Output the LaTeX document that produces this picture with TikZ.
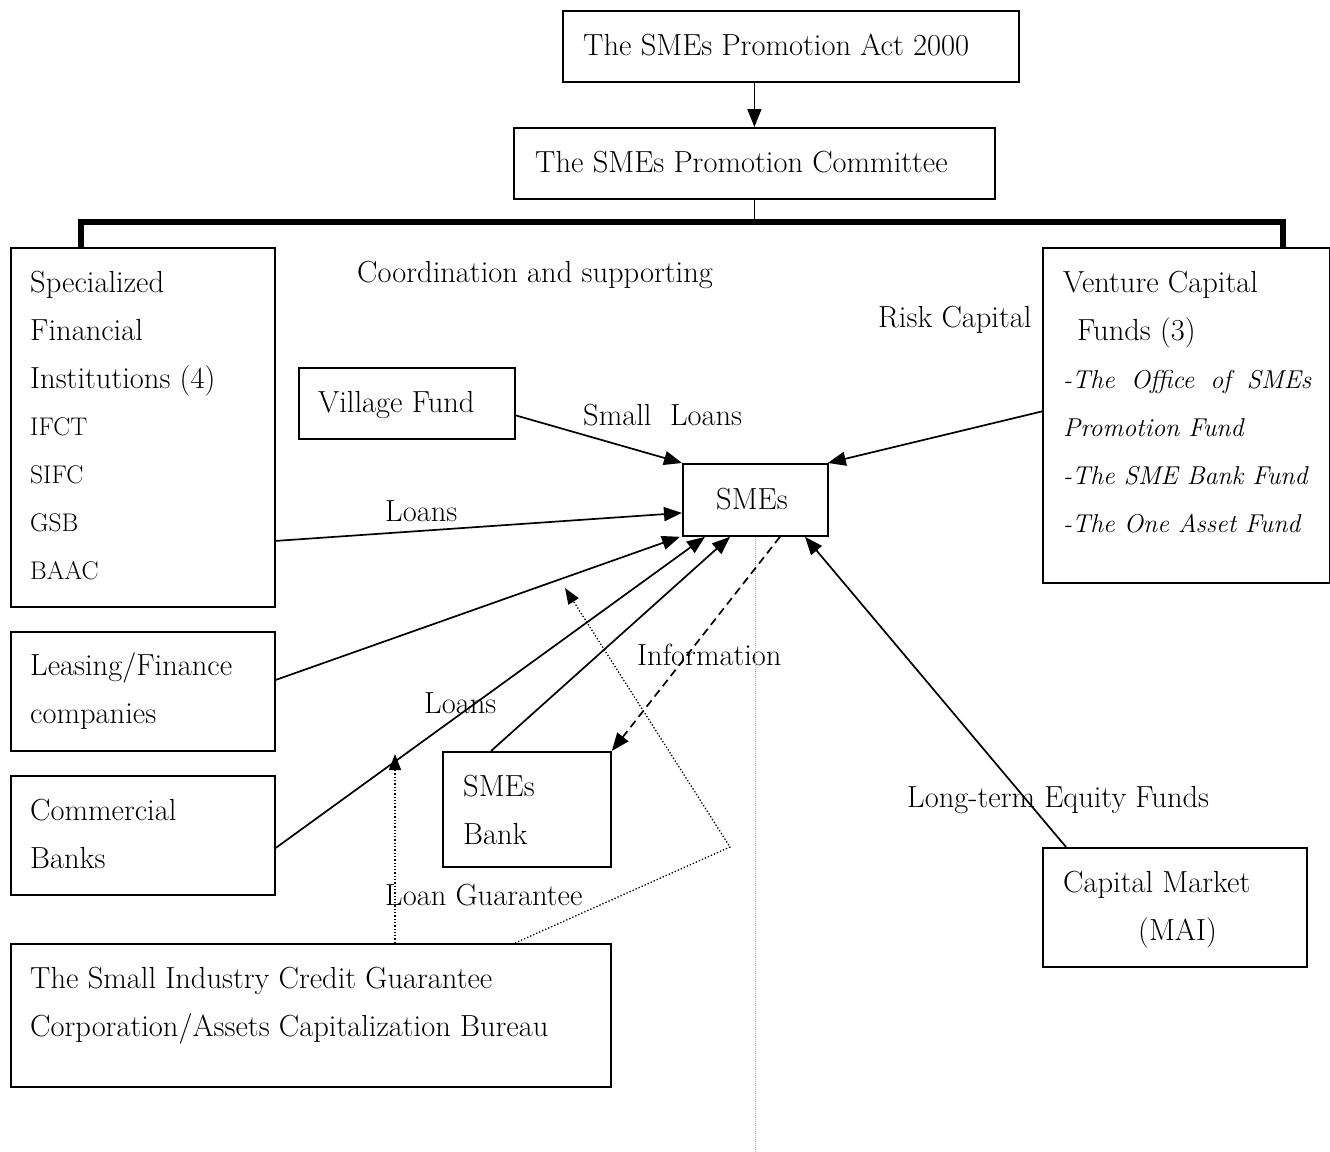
\documentclass[tikz,border=0pt]{standalone}
\usetikzlibrary{arrows.meta}
\begin{document}
\begin{tikzpicture}[x=1pt,y=-1pt,
  box/.style={draw, line width=1.8pt, inner sep=0pt, anchor=north west},
  txt/.style={inner sep=0pt, anchor=north west, align=left, font=\fontsize{30.5}{48}\selectfont},
  smalltxt/.style={inner sep=0pt, anchor=north west, align=left, font=\fontsize{25.5}{48}\selectfont},
  itxt/.style={inner sep=0pt, anchor=north west, align=left, font=\fontsize{25.8}{48}\selectfont\itshape},
  lbl/.style={inner sep=0pt, anchor=base west, font=\fontsize{30.5}{36}\selectfont},
  con/.style={line width=1.7pt, -{Triangle[length=18pt,width=14pt]}},
  dotcon/.style={line width=1.3pt, dash pattern=on 1.3pt off 2pt, -{Triangle[length=16pt,width=12pt]}},
  dashcon/.style={line width=1.7pt, dash pattern=on 8pt off 5pt, -{Triangle[length=18pt,width=14pt]}},
  guide/.style={gray!70, line width=1pt, dash pattern=on 1pt off 1pt}]
\useasboundingbox (0,0) rectangle (1330,1151);

% boxes
\node[box, minimum width=456, minimum height=71] (act) at (562,10) {};
\node[box, minimum width=481, minimum height=71] (com) at (513,127) {};
\node[box, minimum width=264, minimum height=359] (sfi) at (10,247) {};
\node[box, minimum width=216, minimum height=71] (vil) at (298,367) {};
\node[box, minimum width=145, minimum height=72] (sme) at (682,463) {};
\node[box, minimum width=287, minimum height=335] (ven) at (1042,247) {};
\node[box, minimum width=264, minimum height=119] (lea) at (10,631) {};
\node[box, minimum width=264, minimum height=119] (cb) at (10,775) {};
\node[box, minimum width=168, minimum height=115] (bank) at (442,751) {};
\node[box, minimum width=600, minimum height=143] (gua) at (10,943) {};
\node[box, minimum width=264, minimum height=119] (cap) at (1042,847) {};

% box texts
\node[txt] (tact) at (583,33.8) {The SMEs Promotion Act 2000};
\node[txt] (tcom) at (535,150.8) {The SMEs Promotion Committee};
\node[txt] (tsfi) at (30,270.8) {Specialized\\Financial\\Institutions (4)};
\node[smalltxt] (tsfil) at (30,417.6) {IFCT\\SIFC\\GSB\\BAAC};
\node[txt] (tvil) at (318,390.8) {Village Fund};
\node[txt] (tsme) at (716,487.5) {SMEs};
\node[txt] (tven) at (1063,270.8) {Venture Capital\\\hspace*{14pt}Funds (3)};
\node[itxt] (tvenl) at (1063,370.1) {\makebox[248pt][s]{-The Office of SMEs}\\Promotion Fund\\-The SME Bank Fund\\-The One Asset Fund};
\node[txt] (tlea) at (30,652.1) {Leasing/Finance\\companies};
\node[txt] (tcb) at (30,798.8) {Commercial\\Banks};
\node[txt] (tbank) at (463,774.5) {SMEs\\Bank};
\node[txt] (tgua) at (30,966.8) {The Small Industry Credit Guarantee\\Corporation/Assets Capitalization Bureau};
\node[txt] (tcap) at (1063,870.8) {Capital Market\\\hspace*{75pt}(MAI)};

% free labels
\node[lbl] (lcoord) at (357,282) {Coordination and supporting};
\node[lbl] (lsmall) at (583,425) {Small\ \ Loans};
\node[lbl] (lloans1) at (385,521) {Loans};
\node[lbl] (lloans2) at (424,713) {Loans};
\node[lbl] (linfo) at (637,665) {Information};
\node[lbl] (lguar) at (385,905) {Loan Guarantee};
\node[lbl] (llong) at (907,807) {Long-term Equity Funds};
\node[lbl] (lrisk) at (878,327) {Risk Capital};

% hierarchy
\coordinate (barL) at (81,222);
\coordinate (barR) at (1283,222);
\draw[con] (act.south -| com.north) -- (com.north);
\draw[line width=1.6pt] (com.south) -- (com.south |- barL);
\draw[line width=5.5pt, line join=miter] (sfi.north -| barL) -- (barL) -- (barR) -- (ven.north -| barR);

% guide line
\coordinate (bottom) at (755,1151);
\draw[guide] (sme.south) -- (sme.south |- bottom);

% connectors to SMEs
\draw[con] ([yshift=-12pt]vil.east) -- (sme.north west);
\draw[con] ([yshift=4pt]ven.west) -- ([xshift=-1pt]sme.north east);
\draw[con] ([yshift=-113.5pt]sfi.east) -- ([yshift=-13pt]sme.west);
\draw[con] ([yshift=11.5pt]lea.east) -- ([xshift=-2pt]sme.south west);
\draw[con] ([yshift=-12.5pt]cb.east) -- ([xshift=23pt]sme.south west);
\draw[con] ([xshift=49pt]bank.north west) -- ([xshift=48pt]sme.south west);
\draw[dashcon] ([xshift=98pt]sme.south west) -- (bank.north east);
\draw[con] ([xshift=24pt]cap.north west) -- ([xshift=123pt]sme.south west);

% loan guarantee dotted
\coordinate (bend) at (730,847);
\coordinate (dtip) at (565,588);
\coordinate (gtip) at (395,754);
\draw[dotcon] ([xshift=505pt]gua.north west) -- (bend) -- (dtip);
\draw[dotcon] ([xshift=385pt]gua.north west) -- (gtip);
\end{tikzpicture}
\end{document}
